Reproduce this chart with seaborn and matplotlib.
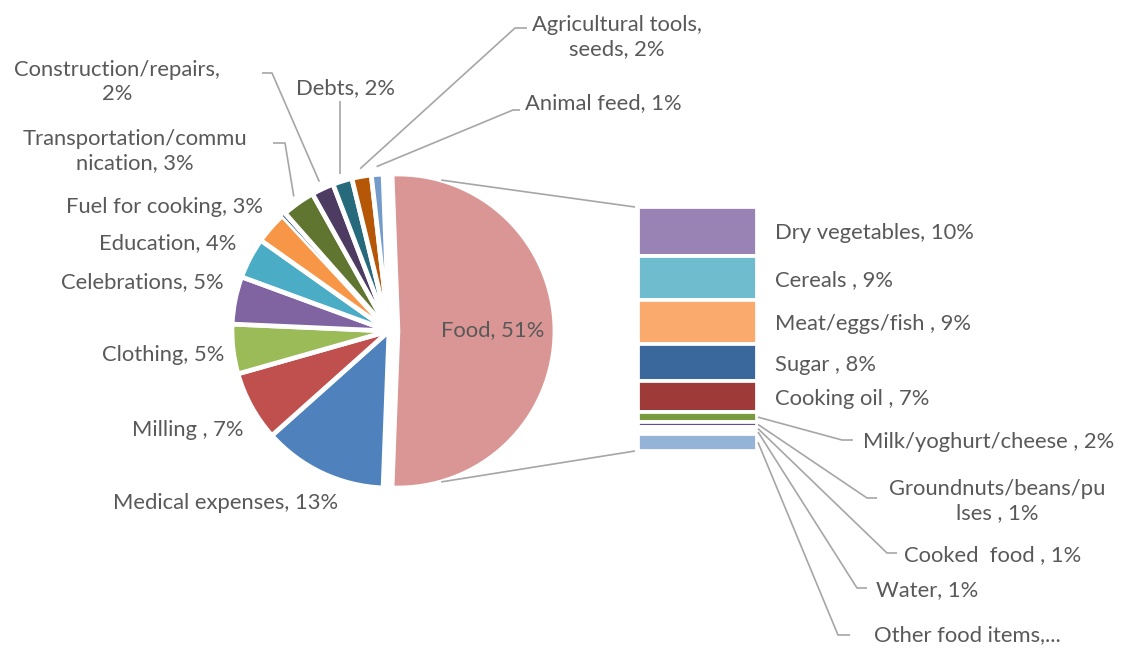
import matplotlib
matplotlib.use("Agg")
import numpy as np
import matplotlib.pyplot as plt
import seaborn as sns

# ======================
# data (% of total spending)
# ======================
pie_labels = ["Food, 51%", "Medical expenses, 13%", "Milling , 7%", "Clothing, 5%",
              "Celebrations, 5%", "Education, 4%", "Fuel for cooking, 3%", "", "",
              "Transportation/commu\nnication, 3%", "Construction/repairs,\n2%",
              "Debts, 2%", "Agricultural tools,\nseeds, 2%", "Animal feed, 1%"]
pie_values = [51.2, 12.8, 7.2, 5.1, 4.9, 4.2, 3.3, 0.2, 0.2, 3.4, 2.3, 2.0, 2.0, 1.2]
pie_colors = ["#D99694", "#4F81BD", "#C0504D", "#9BBB59", "#8064A2", "#4BACC6",
              "#F79646", "#2C4D75", "#772C2A", "#5F7530", "#4D3B62", "#276A7C",
              "#B65708", "#729ACA"]

food_labels = ["Dry vegetables, 10%", "Cereals , 9%", "Meat/eggs/fish , 9%", "Sugar , 8%",
               "Cooking oil , 7%", "Milk/yoghurt/cheese , 2%",
               "Groundnuts/beans/pu\nlses , 1%", "Cooked  food , 1%", "Water, 1%",
               "Other food items,..."]
food_values = [10.2, 9.4, 9.2, 7.7, 6.6, 2.0, 1.05, 0.7, 0.7, 3.65]
food_colors = ["#9883B4", "#70BCCF", "#F9AA6C", "#3A679C", "#9E3B38", "#7A9A3E",
               "#64508C", "#C6D9F1", "#F2DCDB", "#95B3D7"]

# ======================
# style
# ======================
sns.set_theme(style="white")
plt.rcParams['font.family'] = ['Lato', 'DejaVu Sans']
txt_color = "#595959"
line_color = "#A6A6A6"
fs = 15.8

W, H = 1127, 648
fig = plt.figure(figsize=(W / 100, H / 100), dpi=100)

# ======================
# pie (food slice centred on the right, the rest clockwise)
# ======================
cx, cy, R = 389, 331, 157
box = 1.3
ax_pie = fig.add_axes([(cx - box * R) / W, (H - cy - box * R) / H,
                       2 * box * R / W, 2 * box * R / H])
start = pie_values[0] / sum(pie_values) * 180
explode = [0.057] + [0] * (len(pie_values) - 1)
wedges, _ = ax_pie.pie(pie_values, colors=pie_colors, startangle=start,
                       counterclock=False, explode=explode,
                       wedgeprops=dict(edgecolor="white", linewidth=3.4))
for w in wedges[7:9]:
    w.set_linewidth(0.6)
ax_pie.set_xlim(-box, box)
ax_pie.set_ylim(-box, box)
ax_pie.axis("off")

# ======================
# stacked bar of food items
# ======================
bx0, bx1, by0, by1 = 638, 757, 207, 451
ax_bar = fig.add_axes([bx0 / W, (H - by1) / H, (bx1 - bx0) / W, (by1 - by0) / H])
bottom = 0
mids = []
for v, c in zip(food_values, food_colors):
    ax_bar.bar(0, v, bottom=bottom, width=1, color=c, edgecolor="white", linewidth=2.7)
    mids.append(bottom + v / 2)
    bottom += v
ax_bar.set_xlim(-0.5, 0.5)
ax_bar.set_ylim(sum(food_values), 0)
ax_bar.axis("off")

# ======================
# overlay in picture pixels for text and leader lines
# ======================
ax = fig.add_axes([0, 0, 1, 1])
ax.set_xlim(0, W)
ax.set_ylim(H, 0)
ax.axis("off")
ax.patch.set_alpha(0)


def to_px(src, xy):
    return ax.transData.inverted().transform(src.transData.transform(xy))


def wedge_point(w, frac, ang=None):
    a = np.deg2rad((w.theta1 + w.theta2) / 2 if ang is None else ang)
    x = w.center[0] + frac * w.r * np.cos(a)
    y = w.center[1] + frac * w.r * np.sin(a)
    return to_px(ax_pie, (x, y))


def leader(p0, pts):
    xs = [p0[0]] + [p[0] for p in pts]
    ys = [p0[1]] + [p[1] for p in pts]
    ax.plot(xs, ys, color=line_color, lw=1.2, solid_capstyle="butt")


tk = dict(color=txt_color, fontsize=fs, linespacing=1.3)

# food slice label and connectors to the bar
ax.text(493, 330, pie_labels[0], ha="center", va="center", **tk)
food = wedges[0]
top_pt = wedge_point(food, 1.0, 74)
bot_pt = wedge_point(food, 1.0, -74)
leader(top_pt, [(bx0 - 3, by0)])
leader(bot_pt, [(bx0 - 3, by1)])

# pie labels without leaders
plain = {1: (226, 503), 2: (188, 430), 3: (163, 355), 4: (142, 282),
         5: (168, 243), 6: (165, 207)}
for i, (x, y) in plain.items():
    ax.text(x, y, pie_labels[i], ha="center", va="center", **tk)

# pie labels with leaders
lead = {9: ((135, 151), [(285, 143), (273, 143)]),
        10: ((117, 82), [(272, 73), (262, 73)]),
        11: ((345, 88), None),
        12: ((617, 37), [(515, 28), (527, 28)]),
        13: ((603, 103), [(513, 110), (520, 110)])}
for i, (txy, pts) in lead.items():
    p0 = wedge_point(wedges[i], 1.05)
    if pts is None:
        pts = [(p0[0], 101)]
    leader(p0, pts)
    ax.text(txy[0], txy[1], pie_labels[i], ha="center", va="center", **tk)

# bar labels, big segments directly beside the bar
for i in range(5):
    y = to_px(ax_bar, (0, mids[i]))[1]
    ax.text(775, y + 2, food_labels[i], ha="left", va="center", **tk)

# small segments with leaders
small = {5: ((989, 442), [(842, 440), (853, 440)]),
         6: ((997, 501), [(867, 498), (877, 498)]),
         7: ((993, 555), [(887, 553), (897, 553)]),
         8: ((927, 590), [(857, 588), (867, 588)]),
         9: ((967, 635), [(838, 635), (850, 635)])}
for i, (txy, pts) in small.items():
    p0 = to_px(ax_bar, (0.5, mids[i]))
    leader((p0[0] + 1, p0[1]), pts)
    ax.text(txy[0], txy[1], food_labels[i], ha="center", va="center", **tk)

fig.savefig("out.png", dpi=100)
